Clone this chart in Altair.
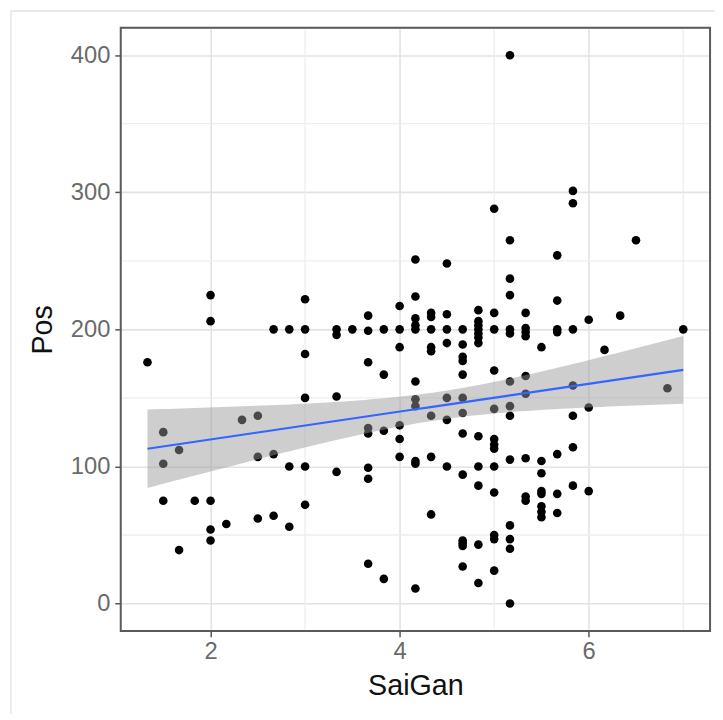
import altair as alt
import numpy as np
import pandas as pd

# ---- data ----
saigan = (
    [1.333]
    + [1.5] * 3
    + [1.667] * 2
    + [1.833]
    + [2.0] * 5
    + [2.167]
    + [2.333]
    + [2.5] * 3
    + [2.667] * 3
    + [2.833] * 3
    + [3.0] * 6
    + [3.333] * 4
    + [3.5]
    + [3.667] * 8
    + [3.833] * 4
    + [4.0] * 6
    + [4.167] * 11
    + [4.333] * 8
    + [4.5] * 7
    + [4.667] * 13
    + [4.833] * 12
    + [5.0] * 13
    + [5.167] * 14
    + [5.333] * 9
    + [5.5] * 8
    + [5.667] * 7
    + [5.833] * 7
    + [6.0] * 3
    + [6.167]
    + [6.333]
    + [6.5]
    + [6.833]
    + [7.0]
)
pos = [
    176,
    125, 102, 75,
    112, 39,
    75,
    225, 206, 75, 54, 46,
    58,
    134,
    137, 107, 62,
    200, 109, 64,
    200, 100, 56,
    222, 200, 182, 150, 100, 72,
    200, 196, 151, 96,
    200,
    210, 199, 176, 128, 124, 99, 91, 29,
    200, 167, 126, 18,
    217, 200, 187, 130, 120, 107,
    251, 224, 208, 203, 200, 162, 149, 144, 104, 102, 11,
    212, 209, 200, 187, 184, 137, 107, 65,
    248, 211, 200, 190, 150, 134, 100,
    200, 189, 180, 177, 167, 150, 139, 124, 94, 46, 44, 42, 27,
    214, 206, 203, 200, 197, 194, 190, 122, 100, 86, 43, 15,
    288, 212, 200, 170, 142, 120, 116, 113, 100, 81, 50, 47, 24,
    400, 265, 237, 225, 200, 197, 162, 144, 137, 105, 57, 47, 40, 0,
    212, 201, 198, 195, 166, 153, 106, 78, 75,
    187, 104, 95, 82, 80, 71, 67, 63,
    254, 221, 200, 198, 109, 80, 66,
    301, 292, 200, 159, 137, 114, 86,
    207, 143, 82,
    185,
    210,
    265,
    157,
    200,
]
x_ticks = [2, 4, 6]
y_ticks = [0, 100, 200, 300, 400]
x_minor = [3, 5, 7]
y_minor = [50, 150, 250, 350]

df = pd.DataFrame({"SaiGan": saigan, "Pos": pos})

# ---- linear fit with 95% confidence band (like geom_smooth(method="lm")) ----
x = np.array(saigan, dtype=float)
y = np.array(pos, dtype=float)
n = len(x)
b, a = np.polyfit(x, y, 1)
resid = y - (a + b * x)
s = np.sqrt(np.sum(resid ** 2) / (n - 2))
sxx = np.sum((x - x.mean()) ** 2)
dfree = n - 2
z = 1.959964
tq = z + (z ** 3 + z) / (4 * dfree) + (5 * z ** 5 + 16 * z ** 3 + 3 * z) / (96 * dfree ** 2)
grid = np.linspace(x.min(), x.max(), 80)
fit = a + b * grid
se = s * np.sqrt(1.0 / n + (grid - x.mean()) ** 2 / sxx)
band = pd.DataFrame({"SaiGan": grid, "fit": fit, "lo": fit - tq * se, "hi": fit + tq * se})

W, H = 596, 610
xdom = [1.05, 7.2835]
ydom = [-20, 420]
xs = alt.Scale(domain=xdom, nice=False, zero=False)
ys = alt.Scale(domain=ydom, nice=False, zero=False)

FONT = "Liberation Sans"

common = dict(grid=True, gridColor="#E3E3E3", gridWidth=1.6, domain=False,
              tickColor="#555555", tickWidth=1.5, tickSize=6,
              labelColor="#6A6A6A", labelFont=FONT, labelFontSize=24,
              titleFont=FONT, titleFontSize=29, titleFontWeight="normal", titleColor="#111111")
xaxis = alt.Axis(values=x_ticks, title="SaiGan", labelPadding=3, titlePadding=8, **common)
yaxis = alt.Axis(values=y_ticks, title="Pos", labelPadding=5, titlePadding=13, **common)

minor_x = alt.Chart(pd.DataFrame({"v": x_minor})).mark_rule(color="#EEEEEE", strokeWidth=1.3).encode(
    x=alt.X("v:Q", scale=xs, axis=xaxis)
)
minor_y = alt.Chart(pd.DataFrame({"v": y_minor})).mark_rule(color="#EEEEEE", strokeWidth=1.3).encode(
    y=alt.Y("v:Q", scale=ys, axis=yaxis)
)

points = alt.Chart(df).mark_circle(size=76, color="#000000", opacity=1).encode(
    x=alt.X("SaiGan:Q", scale=xs, axis=xaxis),
    y=alt.Y("Pos:Q", scale=ys, axis=yaxis),
)

ci = alt.Chart(band).mark_area(color="#999999", opacity=0.48).encode(
    x=alt.X("SaiGan:Q", scale=xs, axis=xaxis),
    y=alt.Y("lo:Q", scale=ys, axis=yaxis),
    y2="hi:Q",
)

line = alt.Chart(band).mark_line(color="#3366FF", strokeWidth=2.2).encode(
    x=alt.X("SaiGan:Q", scale=xs, axis=xaxis),
    y=alt.Y("fit:Q", scale=ys, axis=yaxis),
)

frame = alt.Chart(pd.DataFrame({"k": [0]})).mark_rect(
    fill=None, fillOpacity=0, stroke="#5A5A5A", strokeWidth=2
).encode(x=alt.value(0), x2=alt.value(W), y=alt.value(0), y2=alt.value(H))

# faint outer border of the original screenshot
outer = alt.Chart(pd.DataFrame({"k": [0]})).mark_rect(
    fill=None, fillOpacity=0, stroke="#E4E4E4", strokeWidth=1.5, clip=False
).encode(x=alt.value(-111), x2=alt.value(W + 40), y=alt.value(-17), y2=alt.value(H + 200))

chart = (
    alt.layer(outer, minor_x, minor_y, points, ci, line, frame)
    .properties(width=W, height=H, autosize=alt.AutoSizeParams(type="none"),
                padding={"left": 114, "top": 16, "right": 5, "bottom": 80})
    .configure_view(stroke=None)
    .configure(background="#FFFFFF")
)

chart.save("out.html", embed_options={"renderer": "svg", "actions": False})
